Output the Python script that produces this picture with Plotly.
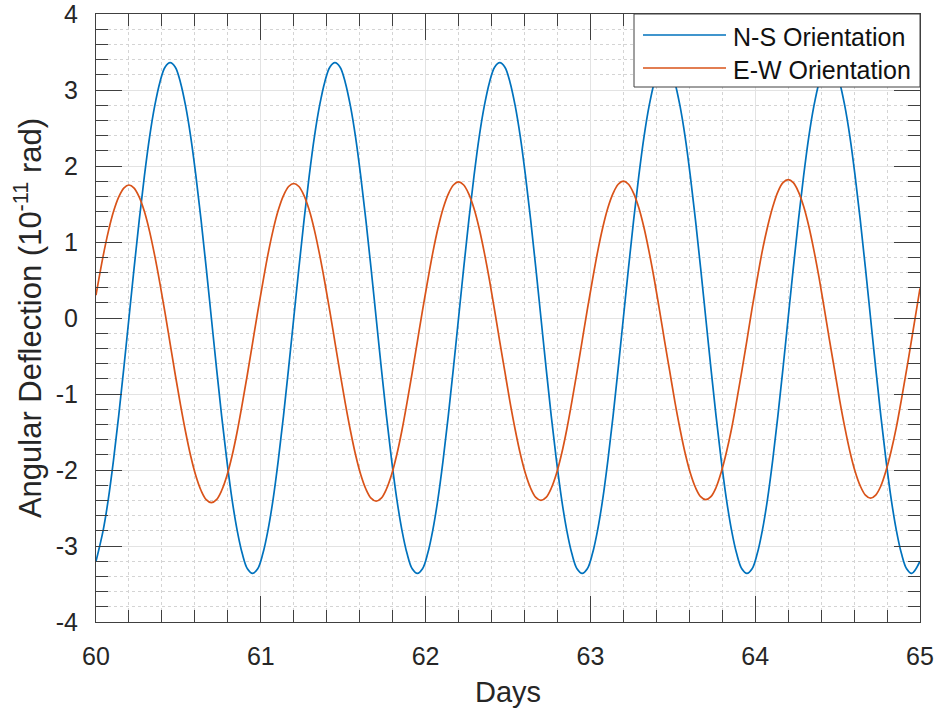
import plotly.graph_objects as go

# Sample times (days) shared by both records
days = [
    60.0, 60.04375, 60.075, 60.10625, 60.1375, 60.16875, 60.2, 60.23125,
    60.2625, 60.29375, 60.325, 60.35625, 60.3875, 60.41875, 60.45, 60.48125,
    60.5125, 60.54375, 60.575, 60.60625, 60.6375, 60.66875, 60.7, 60.73125,
    60.7625, 60.79375, 60.825, 60.85625, 60.8875, 60.91875, 60.95, 60.98125,
    61.0125, 61.04375, 61.075, 61.10625, 61.1375, 61.16875, 61.2, 61.23125,
    61.2625, 61.29375, 61.325, 61.35625, 61.3875, 61.41875, 61.45, 61.48125,
    61.5125, 61.54375, 61.575, 61.60625, 61.6375, 61.66875, 61.7, 61.73125,
    61.7625, 61.79375, 61.825, 61.85625, 61.8875, 61.91875, 61.95, 61.98125,
    62.0125, 62.04375, 62.075, 62.10625, 62.1375, 62.16875, 62.2, 62.23125,
    62.2625, 62.29375, 62.325, 62.35625, 62.3875, 62.41875, 62.45, 62.48125,
    62.5125, 62.54375, 62.575, 62.60625, 62.6375, 62.66875, 62.7, 62.73125,
    62.7625, 62.79375, 62.825, 62.85625, 62.8875, 62.91875, 62.95, 62.98125,
    63.0125, 63.04375, 63.075, 63.10625, 63.1375, 63.16875, 63.2, 63.23125,
    63.2625, 63.29375, 63.325, 63.35625, 63.3875, 63.41875, 63.45, 63.48125,
    63.5125, 63.54375, 63.575, 63.60625, 63.6375, 63.66875, 63.7, 63.73125,
    63.7625, 63.79375, 63.825, 63.85625, 63.8875, 63.91875, 63.95, 63.98125,
    64.0125, 64.04375, 64.075, 64.10625, 64.1375, 64.16875, 64.2, 64.23125,
    64.2625, 64.29375, 64.325, 64.35625, 64.3875, 64.41875, 64.45, 64.48125,
    64.5125, 64.54375, 64.575, 64.60625, 64.6375, 64.66875, 64.7, 64.73125,
    64.7625, 64.79375, 64.825, 64.85625, 64.8875, 64.91875, 64.95, 65.0,
]

# Angular deflection, units of 1e-11 rad
ns_orientation = [
    -3.20, -2.79, -2.38, -1.87, -1.29, -0.66, 0.00, 0.66,
    1.29, 1.87, 2.38, 2.79, 3.10, 3.30, 3.36, 3.30,
    3.10, 2.79, 2.38, 1.87, 1.29, 0.66, 0.00, -0.66,
    -1.29, -1.87, -2.38, -2.79, -3.10, -3.30, -3.36, -3.30,
    -3.10, -2.79, -2.38, -1.87, -1.29, -0.66, 0.00, 0.66,
    1.29, 1.87, 2.38, 2.79, 3.10, 3.30, 3.36, 3.30,
    3.10, 2.79, 2.38, 1.87, 1.29, 0.66, 0.00, -0.66,
    -1.29, -1.87, -2.38, -2.79, -3.10, -3.30, -3.36, -3.30,
    -3.10, -2.79, -2.38, -1.87, -1.29, -0.66, 0.00, 0.66,
    1.29, 1.87, 2.38, 2.79, 3.10, 3.30, 3.36, 3.30,
    3.10, 2.79, 2.38, 1.87, 1.29, 0.66, 0.00, -0.66,
    -1.29, -1.87, -2.38, -2.79, -3.10, -3.30, -3.36, -3.30,
    -3.10, -2.79, -2.38, -1.87, -1.29, -0.66, 0.00, 0.66,
    1.29, 1.87, 2.38, 2.79, 3.10, 3.30, 3.36, 3.30,
    3.10, 2.79, 2.38, 1.87, 1.29, 0.66, 0.00, -0.66,
    -1.29, -1.87, -2.38, -2.79, -3.10, -3.30, -3.36, -3.30,
    -3.10, -2.79, -2.38, -1.87, -1.29, -0.66, 0.00, 0.66,
    1.29, 1.87, 2.38, 2.79, 3.10, 3.30, 3.36, 3.30,
    3.10, 2.79, 2.38, 1.87, 1.29, 0.66, 0.00, -0.66,
    -1.29, -1.87, -2.38, -2.79, -3.10, -3.30, -3.36, -3.20,
]

ew_orientation = [
    0.30, 0.82, 1.14, 1.40, 1.59, 1.71, 1.75, 1.71,
    1.59, 1.40, 1.14, 0.82, 0.46, 0.07, -0.34, -0.75,
    -1.14, -1.50, -1.82, -2.08, -2.27, -2.39, -2.43, -2.39,
    -2.27, -2.08, -1.82, -1.50, -1.13, -0.74, -0.33, 0.08,
    0.47, 0.84, 1.16, 1.42, 1.61, 1.73, 1.77, 1.73,
    1.61, 1.42, 1.16, 0.84, 0.48, 0.09, -0.32, -0.73,
    -1.12, -1.48, -1.80, -2.06, -2.25, -2.37, -2.41, -2.37,
    -2.25, -2.06, -1.80, -1.48, -1.11, -0.72, -0.31, 0.10,
    0.49, 0.86, 1.18, 1.44, 1.63, 1.75, 1.79, 1.75,
    1.63, 1.44, 1.18, 0.86, 0.50, 0.10, -0.31, -0.71,
    -1.11, -1.47, -1.79, -2.05, -2.24, -2.36, -2.40, -2.36,
    -2.24, -2.05, -1.79, -1.47, -1.10, -0.71, -0.30, 0.11,
    0.50, 0.87, 1.19, 1.45, 1.64, 1.76, 1.80, 1.76,
    1.64, 1.45, 1.19, 0.87, 0.51, 0.11, -0.30, -0.70,
    -1.10, -1.46, -1.78, -2.04, -2.23, -2.35, -2.39, -2.35,
    -2.23, -2.03, -1.77, -1.46, -1.09, -0.70, -0.29, 0.13,
    0.52, 0.89, 1.20, 1.46, 1.66, 1.78, 1.82, 1.78,
    1.66, 1.47, 1.21, 0.89, 0.53, 0.13, -0.28, -0.68,
    -1.08, -1.44, -1.76, -2.02, -2.21, -2.33, -2.37, -2.33,
    -2.21, -2.01, -1.75, -1.44, -1.07, -0.68, -0.27, 0.39,
]

series_names = ["N-S Orientation", "E-W Orientation"]
series_colors = ["#0072BD", "#D95319"]

x_ticks = [60, 61, 62, 63, 64, 65]
y_ticks = [-4, -3, -2, -1, 0, 1, 2, 3, 4]

W, H = 940, 712
ML, MR, MT, MB = 96, 20, 14, 90
PW, PH = W - ML - MR, H - MT - MB

FONT = "Liberation Sans, Arial, sans-serif"
TXT = "#262626"
AX = "#404040"


def px_x(px):
    return (px - ML) / PW


def px_y(py):
    return (H - MB - py) / PH


fig = go.Figure()
for name, vals, col in zip(series_names, [ns_orientation, ew_orientation], series_colors):
    fig.add_trace(go.Scatter(
        x=days, y=vals, mode="lines", name=name,
        line=dict(color=col, width=1.7, shape="spline", smoothing=1.0),
        showlegend=False,
    ))

axis_common = dict(
    showline=True, linecolor=AX, linewidth=1, mirror="allticks",
    ticks="inside", ticklen=26, tickwidth=1, tickcolor=AX,
    showgrid=True, gridcolor="#e3e3e3", gridwidth=1,
    zeroline=False, ticklabeloverflow="allow",
    tickfont=dict(family=FONT, size=25, color=TXT),
)

fig.update_xaxes(
    range=[60, 65], tickvals=x_ticks, ticktext=[str(v) for v in x_ticks],
    minor=dict(dtick=0.2, tick0=60, ticks="inside", ticklen=12, tickcolor=AX,
               showgrid=True, gridcolor="#d4d4d4", griddash="dot", gridwidth=1),
    title=dict(text="Days", font=dict(family=FONT, size=29, color=TXT), standoff=12),
    ticklabelstandoff=12,
    **axis_common,
)
fig.update_yaxes(
    range=[-4, 4], tickvals=y_ticks, ticktext=[str(v) for v in y_ticks],
    minor=dict(dtick=0.2, tick0=-4, ticks="inside", ticklen=12, tickcolor=AX,
               showgrid=True, gridcolor="#d4d4d4", griddash="dot", gridwidth=1),
    title=dict(text="Angular Deflection (10<sup>-11</sup> rad)",
               font=dict(family=FONT, size=31, color=TXT), standoff=4),
    ticklabelstandoff=12,
    **axis_common,
)

# Legend box drawn in paper coordinates
shapes = [dict(type="rect", xref="paper", yref="paper",
               x0=px_x(634), x1=px_x(920), y0=px_y(87), y1=px_y(14),
               fillcolor="white", line=dict(color=AX, width=1), layer="above")]
annotations = []
for i, (name, col) in enumerate(zip(series_names, series_colors)):
    ly = 35 + i * 33
    shapes.append(dict(type="line", xref="paper", yref="paper",
                       x0=px_x(643), x1=px_x(726), y0=px_y(ly), y1=px_y(ly),
                       line=dict(color=col, width=1.7), layer="above"))
    annotations.append(dict(xref="paper", yref="paper", x=px_x(731), y=px_y(ly + 2),
                            xanchor="left", yanchor="middle", showarrow=False,
                            text=name, font=dict(family=FONT, size=25, color="#111111")))

fig.update_layout(
    width=W, height=H,
    margin=dict(l=ML, r=MR, t=MT, b=MB, autoexpand=False),
    paper_bgcolor="white", plot_bgcolor="white",
    shapes=shapes, annotations=annotations,
    showlegend=False,
)

fig.write_html("out.html")
